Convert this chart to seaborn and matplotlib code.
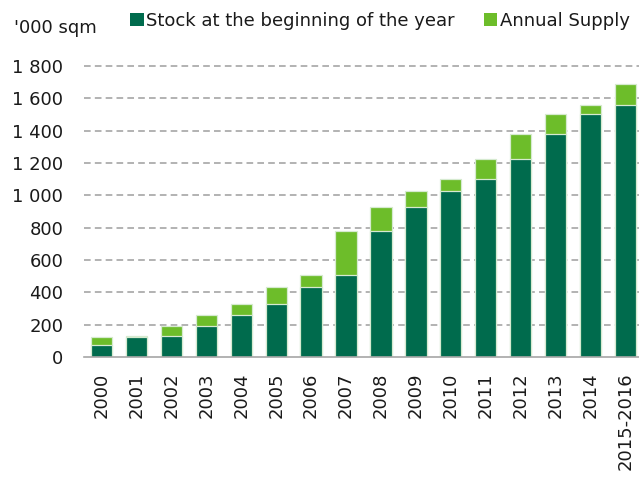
import matplotlib
matplotlib.use("Agg")
import matplotlib.pyplot as plt
import seaborn as sns
import pandas as pd
import numpy as np
from matplotlib.patches import Patch
from matplotlib.ticker import FixedLocator, FuncFormatter

years = ["2000", "2001", "2002", "2003", "2004", "2005", "2006", "2007",
         "2008", "2009", "2010", "2011", "2012", "2013", "2014", "2015-2016"]
stock = [74, 124, 130, 190, 262, 328, 431, 509, 779, 930, 1027, 1101, 1227, 1378, 1503, 1561]
supply = [50, 6, 60, 72, 66, 103, 78, 270, 151, 97, 74, 126, 151, 125, 58, 126]
yticks = [0, 200, 400, 600, 800, 1000, 1200, 1400, 1600, 1800]

DARK = "#006b4d"
LIGHT = "#6dbd2a"
EDGE = "#d6ead0"

sns.set_theme(style="white")
plt.rcParams['font.family'] = ['DejaVu Sans']

df = pd.DataFrame({"year": years, "stock": stock, "supply": supply})
df["total"] = df["stock"] + df["supply"]

fig = plt.figure(figsize=(6.39, 4.79), dpi=100)
ax = fig.add_axes([84/639, 1-357/479, 559/639, 291/479])

sns.barplot(data=df, x="year", y="total", color=LIGHT, saturation=1, width=0.61,
            edgecolor=EDGE, linewidth=0.9, ax=ax, zorder=2)
sns.barplot(data=df, x="year", y="stock", color=DARK, saturation=1, width=0.61,
            edgecolor=EDGE, linewidth=0.9, ax=ax, zorder=3)

ax.set_ylim(0, 1800)
ax.set_xlim(-0.5, len(years) - 0.5)
ax.set_yticks(yticks)
ax.yaxis.set_major_formatter(FuncFormatter(lambda v, p: f"{int(v):,}".replace(",", " ")))
for y in yticks[1:]:
    ax.axhline(y, color="#a6a6a6", lw=1.2, ls=(0, (4, 2.5)), zorder=1, clip_on=False)

ax.set_xlabel("")
ax.set_ylabel("")
for s in ["top", "right", "left"]:
    ax.spines[s].set_visible(False)
ax.spines["bottom"].set_color("#a6a6a6")
ax.spines["bottom"].set_linewidth(1.2)
ax.spines["bottom"].set_zorder(4)

ax.tick_params(axis="y", length=0, pad=15, labelsize=13, labelcolor="#1a1a1a")
ax.tick_params(axis="x", which="major", length=0, pad=11, labelsize=13,
               labelrotation=90, labelcolor="#1a1a1a")
ax.xaxis.set_minor_locator(FixedLocator(np.arange(-0.5, len(years), 1.0)))
ax.tick_params(axis="x", which="minor", length=5, width=1.2, color="#a6a6a6", direction="out")

fig.text(14/639, 1-28/479, "'000 sqm", fontsize=13, color="#1a1a1a", va="center", ha="left")

handles = [Patch(facecolor=DARK, edgecolor="none", label="Stock at the beginning of the year"),
           Patch(facecolor=LIGHT, edgecolor="none", label="Annual Supply")]
fig.legend(handles=handles, loc="center left", bbox_to_anchor=(130/639, 1-21/479),
           ncol=2, frameon=False, fontsize=13, handlelength=0.75, handleheight=0.75,
           handletextpad=0.15, columnspacing=1.6, borderaxespad=0, borderpad=0,
           labelcolor="#1a1a1a")

fig.savefig("out.png", dpi=100)
